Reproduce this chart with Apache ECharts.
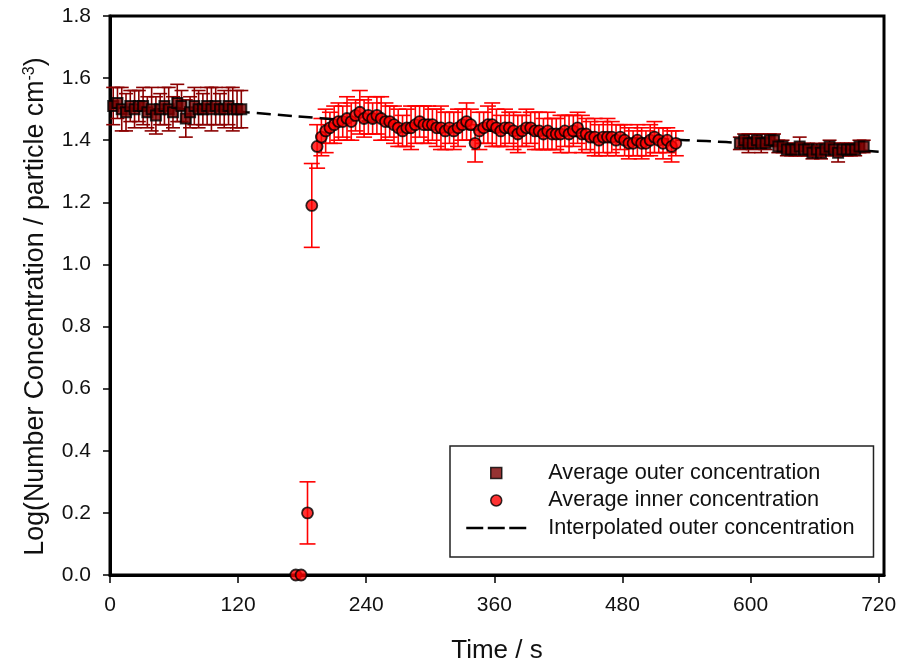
<!DOCTYPE html>
<html>
<head>
<meta charset="utf-8">
<script src="https://cdn.jsdelivr.net/npm/echarts@6/dist/echarts.min.js"></script>
<style>
  html, body { margin: 0; padding: 0; background: #fff; }
  #main { width: 900px; height: 666px; }
</style>
</head>
<body>
<div id="main"></div>
<script>
// outer concentration, first block (before the switch)
var outerT1 = [3, 7, 11, 15, 19, 23, 27, 31, 35, 39, 43, 47, 51, 55, 59, 63, 67, 71, 75, 79, 83, 87, 91, 95, 99, 103, 107, 111, 115, 119, 123];
var outerV1 = [1.51, 1.52, 1.50, 1.49, 1.51, 1.50, 1.51, 1.51, 1.49, 1.50, 1.48, 1.50, 1.51, 1.50, 1.49, 1.52, 1.51, 1.47, 1.49, 1.51, 1.50, 1.50, 1.51, 1.50, 1.51, 1.50, 1.50, 1.51, 1.50, 1.50, 1.50];
var outerE1 = [0.06, 0.05, 0.07, 0.06, 0.05, 0.06, 0.05, 0.06, 0.05, 0.07, 0.06, 0.05, 0.06, 0.07, 0.05, 0.06, 0.05, 0.06, 0.05, 0.06, 0.06, 0.05, 0.06, 0.07, 0.06, 0.05, 0.06, 0.06, 0.07, 0.06, 0.06];

// outer concentration, second block (after switching back)
var outerT2 = [590, 594, 598, 602, 606, 610, 614, 618, 622, 626, 630, 634, 638, 642, 646, 650, 654, 658, 662, 666, 670, 674, 678, 682, 686, 690, 694, 698, 702, 706];
var outerV2 = [1.39, 1.40, 1.39, 1.39, 1.40, 1.39, 1.39, 1.40, 1.40, 1.38, 1.38, 1.37, 1.37, 1.37, 1.38, 1.37, 1.37, 1.36, 1.37, 1.36, 1.37, 1.38, 1.37, 1.36, 1.37, 1.37, 1.37, 1.37, 1.38, 1.38];
var outerE2 = [0.02, 0.02, 0.03, 0.02, 0.02, 0.03, 0.02, 0.02, 0.02, 0.02, 0.02, 0.02, 0.02, 0.02, 0.03, 0.02, 0.02, 0.02, 0.02, 0.02, 0.02, 0.02, 0.02, 0.03, 0.02, 0.02, 0.02, 0.02, 0.02, 0.02];

// inner concentration
var innerT = [174, 179, 185, 189, 194, 198, 202, 206, 210, 214, 218, 222, 226, 230, 234, 238, 242, 246, 250, 254, 258, 262, 266, 270, 274, 278, 282, 286, 290, 294, 298, 302, 306, 310, 314, 318, 322, 326, 330, 334, 338, 342, 346, 350, 354, 358, 362, 366, 370, 374, 378, 382, 386, 390, 394, 398, 402, 406, 410, 414, 418, 422, 426, 430, 434, 438, 442, 446, 450, 454, 458, 462, 466, 470, 474, 478, 482, 486, 490, 494, 498, 502, 506, 510, 514, 518, 522, 526, 530];
var innerV = [0, 0, 0.20, 1.19, 1.38, 1.41, 1.43, 1.44, 1.45, 1.46, 1.46, 1.47, 1.46, 1.48, 1.49, 1.47, 1.48, 1.47, 1.48, 1.47, 1.46, 1.46, 1.45, 1.44, 1.43, 1.44, 1.44, 1.45, 1.46, 1.45, 1.45, 1.45, 1.44, 1.44, 1.43, 1.44, 1.43, 1.44, 1.45, 1.46, 1.45, 1.39, 1.43, 1.44, 1.45, 1.45, 1.44, 1.43, 1.44, 1.44, 1.43, 1.42, 1.43, 1.44, 1.44, 1.43, 1.43, 1.42, 1.43, 1.42, 1.42, 1.42, 1.43, 1.42, 1.43, 1.44, 1.42, 1.42, 1.41, 1.41, 1.40, 1.41, 1.41, 1.41, 1.40, 1.41, 1.40, 1.39, 1.39, 1.40, 1.39, 1.39, 1.40, 1.41, 1.40, 1.39, 1.40, 1.38, 1.39];
var innerE = [0, 0, 0.10, 0.135, 0.07, 0.06, 0.07, 0.05, 0.06, 0.06, 0.05, 0.07, 0.06, 0.05, 0.07, 0.06, 0.06, 0.05, 0.06, 0.07, 0.06, 0.05, 0.06, 0.06, 0.05, 0.06, 0.07, 0.06, 0.05, 0.06, 0.06, 0.05, 0.06, 0.07, 0.06, 0.05, 0.06, 0.06, 0.05, 0.06, 0.05, 0.06, 0.06, 0.05, 0.06, 0.07, 0.06, 0.05, 0.06, 0.05, 0.06, 0.06, 0.05, 0.06, 0.05, 0.06, 0.06, 0.05, 0.06, 0.05, 0.05, 0.06, 0.05, 0.06, 0.05, 0.05, 0.06, 0.05, 0.05, 0.06, 0.05, 0.05, 0.06, 0.05, 0.05, 0.04, 0.05, 0.05, 0.04, 0.05, 0.05, 0.04, 0.05, 0.05, 0.04, 0.05, 0.04, 0.05, 0.04];

// interpolated outer concentration
var interpT = [0, 40, 80, 128, 175, 220, 280, 340, 400, 460, 540, 577, 620, 660, 700, 725];
var interpV = [1.505, 1.50, 1.50, 1.49, 1.477, 1.465, 1.45, 1.435, 1.42, 1.41, 1.40, 1.394, 1.385, 1.375, 1.368, 1.362];

var xTicks = [0, 120, 240, 360, 480, 600, 720];

var FONT = '"Liberation Sans", Arial, sans-serif';

function pairs(t, v) {
    return t.map(function (x, i) { return [x, v[i]]; });
}
function bars(t, v, e) {
    var out = [];
    t.forEach(function (x, i) {
        if (e[i] > 0) out.push([x, v[i] - e[i], v[i] + e[i]]);
    });
    return out;
}
function errorBar(color, cap) {
    return function (params, api) {
        var x = api.value(0);
        var top = api.coord([x, api.value(2)]);
        var bot = api.coord([x, api.value(1)]);
        var st = { stroke: color, lineWidth: 1.6 };
        return {
            type: 'group',
            children: [
                { type: 'line', shape: { x1: top[0], y1: top[1], x2: bot[0], y2: bot[1] }, style: st },
                { type: 'line', shape: { x1: top[0] - cap, y1: top[1], x2: top[0] + cap, y2: top[1] }, style: st },
                { type: 'line', shape: { x1: bot[0] - cap, y1: bot[1], x2: bot[0] + cap, y2: bot[1] }, style: st }
            ]
        };
    };
}

var outerStyle = { color: '#7a0000', borderColor: '#000', borderWidth: 2 };
var innerStyle = { color: '#ff0000', borderColor: '#000', borderWidth: 1.8 };

var chart = echarts.init(document.getElementById('main'), null, { renderer: 'canvas' });

var option = {
    backgroundColor: '#fff',
    animation: false,
    textStyle: { fontFamily: FONT },
    grid: {
        left: 110, right: 16, top: 16, bottom: 91,
        show: true, borderColor: '#000', borderWidth: 3,
        outerBoundsMode: 'none'
    },
    legend: {
        orient: 'vertical',
        left: 450, top: 446,
        padding: [16, 19, 18, 15],
        itemGap: 5.5,
        itemWidth: 60,
        itemHeight: 11,
        borderColor: '#222',
        borderWidth: 1.5,
        textStyle: { fontSize: 21.7, color: '#111', fontFamily: FONT, lineHeight: 22, padding: [0, 0, 0, 17] },
        data: [
            { name: 'Average outer concentration', icon: 'path://M0,0H10V10H0Z', itemStyle: { borderWidth: 1.5 } },
            { name: 'Average inner concentration', icon: 'circle', itemStyle: { borderWidth: 1.5 } },
            {
                name: 'Interpolated outer concentration',
                itemStyle: { color: 'rgba(0,0,0,0)', borderWidth: 0, opacity: 0 },
                lineStyle: { type: [17, 4.5], width: 2.5 }
            }
        ]
    },
    xAxis: {
        type: 'value',
        min: 0, max: 725, interval: 120,
        name: 'Time / s',
        nameLocation: 'middle',
        nameGap: 63,
        nameTextStyle: { fontSize: 26, color: '#111', fontFamily: FONT },
        axisLine: { lineStyle: { color: '#000', width: 3 } },
        axisTick: { show: true, inside: false, length: 8, lineStyle: { color: '#000', width: 1.5 }, customValues: xTicks },
        axisLabel: { fontSize: 21, color: '#111', margin: 20, customValues: xTicks },
        splitLine: { show: false }
    },
    yAxis: {
        type: 'value',
        min: 0, max: 1.8, interval: 0.2,
        name: 'Log(Number Concentration / particle cm{sup|-3})',
        nameLocation: 'middle',
        nameGap: 60,
        nameTextStyle: {
            fontSize: 26.8, color: '#111', fontFamily: FONT,
            padding: [0, 22, 0, 0],
            rich: { sup: { fontSize: 16, verticalAlign: 'top', padding: [0, 0, 12, 0], color: '#111', fontFamily: FONT } }
        },
        axisLine: { lineStyle: { color: '#000', width: 3 } },
        axisTick: { show: true, inside: false, length: 7, lineStyle: { color: '#000', width: 1.5 } },
        axisLabel: {
            fontSize: 21, color: '#111', margin: 19,
            formatter: function (v) { return v.toFixed(1); }
        },
        splitLine: { show: false }
    },
    series: [
        {
            type: 'custom', name: 'outerErr1', renderItem: errorBar('#8b0000', 7),
            encode: { x: 0, y: [1, 2] }, data: bars(outerT1, outerV1, outerE1), z: 1, silent: true
        },
        {
            type: 'custom', name: 'outerErr2', renderItem: errorBar('#8b0000', 7),
            encode: { x: 0, y: [1, 2] }, data: bars(outerT2, outerV2, outerE2), z: 1, silent: true
        },
        {
            type: 'custom', name: 'innerErr', renderItem: errorBar('#ff0000', 8),
            encode: { x: 0, y: [1, 2] }, data: bars(innerT, innerV, innerE), z: 1, silent: true
        },
        {
            name: 'Interpolated outer concentration',
            type: 'line',
            data: pairs(interpT, interpV),
            symbol: 'none',
            smooth: 0.3,
            lineStyle: { color: '#000', width: 2.5, type: [14, 7] },
            itemStyle: { color: '#000' },
            z: 2
        },
        {
            name: 'Average outer concentration',
            type: 'scatter',
            symbol: 'rect',
            symbolSize: 10,
            data: pairs(outerT1, outerV1).concat(pairs(outerT2, outerV2)),
            itemStyle: outerStyle,
            z: 3
        },
        {
            name: 'Average inner concentration',
            type: 'scatter',
            symbol: 'circle',
            symbolSize: 11,
            data: pairs(innerT, innerV),
            itemStyle: innerStyle,
            z: 4
        }
    ]
};

chart.setOption(option);
</script>
</body>
</html>
